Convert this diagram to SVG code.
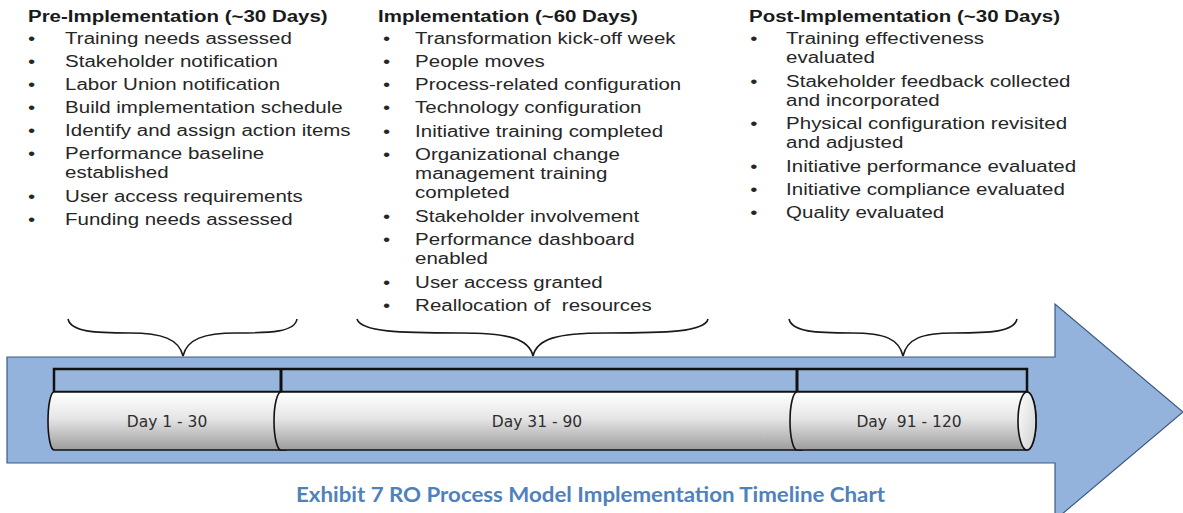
<svg xmlns="http://www.w3.org/2000/svg" width="1183" height="513" viewBox="0 0 1183 513">
<style>
.h{font-family:"Liberation Sans",Arial,sans-serif;font-size:16px;font-weight:bold;fill:#1a1a1a}
.t{font-family:"Liberation Sans",Arial,sans-serif;font-size:16px;fill:#262626}
.day{font-family:"DejaVu Sans",Verdana,sans-serif;font-size:15.5px;fill:#2e2e2e;text-anchor:middle}
.cap{font-family:Lato,"Liberation Sans",sans-serif;font-size:21px;font-weight:bold;fill:#4f81bd}
.brace{fill:none;stroke:#1a1a1a;stroke-width:1.6}
.cyl{fill:url(#g);stroke:#111;stroke-width:1.6}
</style>
<defs>
<linearGradient id="g" x1="0" y1="0" x2="0" y2="1">
<stop offset="0" stop-color="#ffffff"/>
<stop offset="0.45" stop-color="#e6e6e6"/>
<stop offset="1" stop-color="#9c9c9c"/>
</linearGradient>
<linearGradient id="g2" x1="0" y1="0" x2="1" y2="1">
<stop offset="0" stop-color="#ffffff"/>
<stop offset="1" stop-color="#d0d0d0"/>
</linearGradient>
</defs>
<g id="arrow">
<path d="M7,357 L1055,357 L1055,304 L1183,412 L1055,520 L1055,463 L7,463 Z" fill="#93b3dc" stroke="#3d5a80" stroke-width="1.2"/>
</g>
<g id="band">
<rect x="54" y="369" width="973" height="23" fill="#98b6dc" stroke="#111" stroke-width="2.5"/>
<line x1="281" y1="369" x2="281" y2="392" stroke="#111" stroke-width="3"/>
<line x1="797" y1="369" x2="797" y2="392" stroke="#111" stroke-width="3"/>
</g>
<g id="seg1">
<path class="cyl" d="M54,392 L286,392 L286,450 L54,450 A6,29 0 0 1 54,392 Z"/>
<text class="day" x="167" y="427">Day 1 - 30</text>
</g>
<g id="seg2">
<path class="cyl" d="M281,392 L802,392 L802,450 L281,450 A7,29 0 0 1 281,392 Z"/>
<text class="day" x="537" y="427">Day 31 - 90</text>
</g>
<g id="seg3">
<path class="cyl" d="M797,392 L1027,392 A9,29 0 0 1 1027,450 L797,450 A7,29 0 0 1 797,392 Z"/>
<ellipse cx="1027" cy="421" rx="9" ry="29" fill="url(#g2)" stroke="#111" stroke-width="1.6"/>
<text class="day" x="909" y="427" xml:space="preserve">Day  91 - 120</text>
</g>
<g id="connectors">
<path class="brace" d="M68,319 C71,332 95,333 130,333 C162,333 179,339 183,356 C187,339 204,333 236,333 C271,333 295,332 297,319"/>
<path class="brace" d="M357,319 C361,332 400,333 460,333 C510,333 529,339 533,356 C537,339 556,333 606,333 C666,333 705,332 708,319"/>
<path class="brace" d="M789,319 C792,332 816,333 852,333 C885,333 899,339 903,356 C907,339 921,333 954,333 C990,333 1014,332 1017,319"/>
</g>
<g id="pre" transform="translate(28,0) scale(1.28,1)">
<text class="h" x="0" y="22">Pre-Implementation  (~30 Days)</text>
<g class="t">
<text x="0" y="44">•</text><text x="29" y="44">Training needs assessed</text>
<text x="0" y="67">•</text><text x="29" y="67">Stakeholder notification</text>
<text x="0" y="90">•</text><text x="29" y="90">Labor Union notification</text>
<text x="0" y="113">•</text><text x="29" y="113">Build implementation schedule</text>
<text x="0" y="136">•</text><text x="29" y="136">Identify and assign action items</text>
<text x="0" y="159">•</text><text x="29" y="159">Performance baseline</text>
<text x="29" y="178">established</text>
<text x="0" y="202">•</text><text x="29" y="202">User access requirements</text>
<text x="0" y="225">•</text><text x="29" y="225">Funding needs assessed</text>
</g>
</g>
<g id="impl" transform="translate(378,0) scale(1.28,1)">
<text class="h" x="0" y="22">Implementation  (~60 Days)</text>
<g class="t">
<text x="4" y="44">•</text><text x="29" y="44">Transformation kick-off week</text>
<text x="4" y="67">•</text><text x="29" y="67">People moves</text>
<text x="4" y="90">•</text><text x="29" y="90">Process-related configuration</text>
<text x="4" y="113">•</text><text x="29" y="113">Technology configuration</text>
<text x="4" y="137">•</text><text x="29" y="137">Initiative training completed</text>
<text x="4" y="160">•</text><text x="29" y="160">Organizational change</text>
<text x="29" y="179">management training</text>
<text x="29" y="198">completed</text>
<text x="4" y="222">•</text><text x="29" y="222">Stakeholder involvement</text>
<text x="4" y="245">•</text><text x="29" y="245">Performance dashboard</text>
<text x="29" y="264">enabled</text>
<text x="4" y="288">•</text><text x="29" y="288">User access granted</text>
<text x="4" y="311">•</text><text x="29" y="311" xml:space="preserve">Reallocation of  resources</text>
</g>
</g>
<g id="post" transform="translate(749,0) scale(1.28,1)">
<text class="h" x="0" y="22">Post-Implementation  (~30 Days)</text>
<g class="t">
<text x="1" y="44">•</text><text x="29" y="44">Training effectiveness</text>
<text x="29" y="63">evaluated</text>
<text x="1" y="87">•</text><text x="29" y="87">Stakeholder feedback collected</text>
<text x="29" y="106">and incorporated</text>
<text x="1" y="129">•</text><text x="29" y="129">Physical configuration revisited</text>
<text x="29" y="148">and adjusted</text>
<text x="1" y="172">•</text><text x="29" y="172">Initiative performance evaluated</text>
<text x="1" y="195">•</text><text x="29" y="195">Initiative compliance evaluated</text>
<text x="1" y="218">•</text><text x="29" y="218">Quality evaluated</text>
</g>
</g>
<g id="caption">
<text class="cap" x="296" y="502" textLength="589" lengthAdjust="spacingAndGlyphs">Exhibit 7 RO Process Model Implementation Timeline Chart</text>
</g>
</svg>
